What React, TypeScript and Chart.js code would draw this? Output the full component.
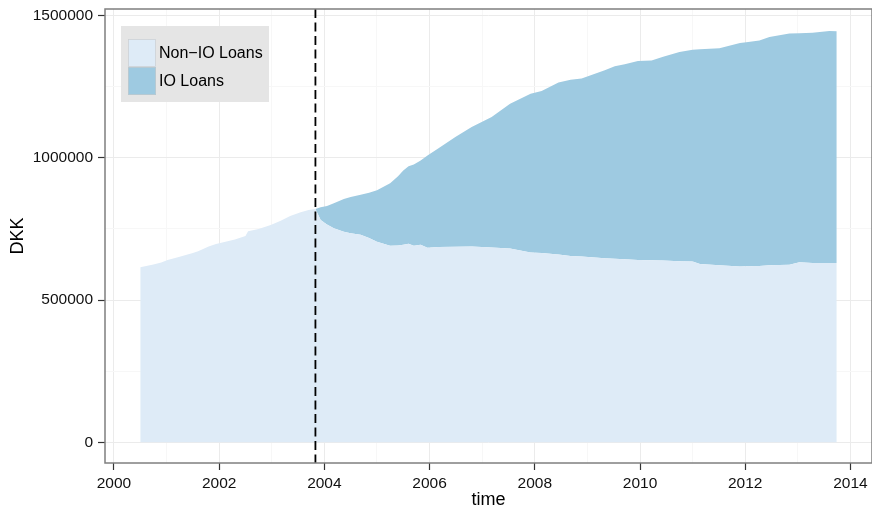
import React, { useEffect, useRef } from "react";
import { Chart, registerables } from "chart.js";

Chart.register(...registerables);

// ---- data (DKK) ----
const timePoints = [
  2000.5, 2000.75, 2000.9, 2001.02, 2001.25, 2001.5, 2001.6, 2001.8, 2001.94, 2002.1,
  2002.3, 2002.5, 2002.55, 2002.75, 2002.98, 2003.17, 2003.35, 2003.55, 2003.7, 2003.83,
  2003.93, 2004.05, 2004.18, 2004.37, 2004.5, 2004.69, 2004.85, 2005.0, 2005.25, 2005.4,
  2005.5, 2005.6, 2005.7, 2005.83, 2005.96, 2006.17, 2006.49, 2006.8, 2007.18, 2007.53,
  2007.92, 2008.13, 2008.45, 2008.68, 2008.89, 2009.33, 2009.52, 2009.71, 2009.96, 2010.22,
  2010.44, 2010.75, 2011.0, 2011.14, 2011.51, 2011.9, 2012.02, 2012.27, 2012.46, 2012.84,
  2013.03, 2013.28, 2013.6, 2013.74,
];

const nonIOLoans = [
  615000, 625000, 632000, 641000, 652000, 665000, 671000, 688000, 697000, 704000,
  713000, 725000, 742000, 750000, 764000, 779000, 795000, 808000, 816000, 820000,
  781000, 765000, 752000, 740000, 735000, 729000, 718000, 705000, 691000, 692000,
  694000, 698000, 691000, 694000, 684000, 686000, 687000, 688000, 685000, 681000,
  667000, 665000, 660000, 655000, 653000, 647000, 645000, 643000, 641000, 640000,
  639000, 636000, 635000, 627000, 622000, 618000, 619000, 620000, 622000, 624000,
  633000, 630000, 630000, 630000,
];

const ioLoans: (number | null)[] = [
  null, null, null, null, null, null, null, null, null, null,
  null, null, null, null, null, null, null, null, null, 0,
  45000, 65000, 88000, 115000, 127000, 141000, 159000, 181000, 219000, 243000,
  261000, 272000, 285000, 296000, 324000, 347000, 386000, 420000, 458000, 509000,
  558000, 569000, 604000, 619000, 625000, 660000, 676000, 685000, 699000, 702000,
  716000, 735000, 744000, 754000, 763000, 785000, 787000, 792000, 802000, 812000,
  804000, 809000, 815000, 814000,
];

const seriesLabels = ["Non\u2212IO Loans", "IO Loans"];
const seriesColors = ["#DEEBF7", "#9ECAE1"];

const xMajorTicks = [2000, 2002, 2004, 2006, 2008, 2010, 2012, 2014];
const xMinorTicks = [2001, 2003, 2005, 2007, 2009, 2011, 2013];
const yMajorTicks = [0, 500000, 1000000, 1500000];
const yMinorTicks = [250000, 750000, 1250000];

const policyChangeTime = 2003.83;
const xLimits = [1999.83, 2014.41];
const yLimits = [-72500, 1522500];

const FONT = "'Liberation Sans', Arial, Helvetica, sans-serif";

const decorPlugin = {
  id: "decor",
  afterDatasetsDraw(chart: any) {
    const { ctx, chartArea: a, scales } = chart;
    const x = scales.x;
    ctx.save();
    // dashed vertical line
    const px = x.getPixelForValue(policyChangeTime);
    ctx.beginPath();
    ctx.setLineDash([9, 4.5]);
    ctx.lineWidth = 1.8;
    ctx.strokeStyle = "#000000";
    ctx.moveTo(px, a.top);
    ctx.lineTo(px, a.bottom);
    ctx.stroke();
    ctx.setLineDash([]);
    // panel border
    ctx.strokeStyle = "#7F7F7F";
    ctx.lineWidth = 1.5;
    ctx.strokeRect(a.left, a.top, a.right - a.left, a.bottom - a.top);
    // legend
    const lx = a.left + 16;
    const ly = a.top + 17;
    ctx.fillStyle = "#E5E5E5";
    ctx.fillRect(lx, ly, 148, 76);
    const keyX = lx + 7;
    const keyY = ly + 13;
    const keySize = 28;
    ctx.font = `16px ${FONT}`;
    ctx.textBaseline = "middle";
    ctx.textAlign = "left";
    chart.data.datasets.forEach((ds: any, i: number) => {
      const ky = keyY + i * keySize;
      ctx.fillStyle = ds.backgroundColor;
      ctx.fillRect(keyX, ky, keySize, keySize);
      ctx.strokeStyle = "rgba(200,200,200,0.8)";
      ctx.lineWidth = 0.75;
      ctx.strokeRect(keyX + 0.5, ky + 0.5, keySize - 1, keySize - 1);
      ctx.fillStyle = "#000000";
      ctx.fillText(ds.label, keyX + keySize + 3, ky + keySize / 2 + 0.5);
    });
    ctx.restore();
  },
};

export default function App() {
  const canvasRef = useRef<HTMLCanvasElement | null>(null);

  useEffect(() => {
    const canvas = canvasRef.current;
    if (!canvas) return;

    const nonIOData = timePoints.map((t, i) => ({ x: t, y: nonIOLoans[i] }));
    const totalData = timePoints
      .map((t, i) => (ioLoans[i] === null ? null : { x: t, y: nonIOLoans[i] + (ioLoans[i] as number) }))
      .filter((p) => p !== null) as { x: number; y: number }[];

    const isMinorX = (v: number) => xMinorTicks.includes(v);
    const isMinorY = (v: number) => yMinorTicks.includes(v);

    const chart = new Chart(canvas, {
      type: "line",
      data: {
        datasets: [
          {
            label: seriesLabels[0],
            data: nonIOData,
            backgroundColor: seriesColors[0],
            borderColor: "rgba(0,0,0,0)",
            borderWidth: 0,
            pointRadius: 0,
            tension: 0,
            fill: "origin",
          },
          {
            label: seriesLabels[1],
            data: totalData,
            backgroundColor: seriesColors[1],
            borderColor: "rgba(0,0,0,0)",
            borderWidth: 0,
            pointRadius: 0,
            tension: 0,
            fill: "-1",
          },
        ],
      },
      options: {
        animation: false,
        responsive: false,
        events: [],
        layout: { padding: { top: 9, right: 0, left: 0, bottom: 0 } },
        plugins: {
          legend: { display: false },
          tooltip: { enabled: false },
        },
        scales: {
          x: {
            type: "linear",
            min: xLimits[0],
            max: xLimits[1],
            afterBuildTicks: (axis: any) => {
              axis.ticks = [...xMajorTicks, ...xMinorTicks]
                .sort((a, b) => a - b)
                .map((v) => ({ value: v }));
            },
            afterFit: (axis: any) => {
              axis.height = 50;
              axis.paddingLeft = 0;
              axis.paddingRight = 0;
              axis.paddingTop = 0;
              axis.paddingBottom = 0;
            },
            border: { display: false },
            grid: {
              color: (c: any) => (c.tick && isMinorX(c.tick.value) ? "#F7F7F7" : "#EBEBEB"),
              lineWidth: 1,
              drawTicks: true,
              tickLength: 7,
              tickWidth: 1.2,
              tickColor: (c: any) => (c.tick && isMinorX(c.tick.value) ? "rgba(0,0,0,0)" : "#333333"),
            },
            ticks: {
              autoSkip: false,
              maxRotation: 0,
              padding: 4,
              color: "#111111",
              font: { family: FONT, size: 15.5 },
              callback: (v: any) => (xMajorTicks.includes(v) ? String(v) : ""),
            },
            title: {
              display: true,
              text: "time",
              color: "#000000",
              font: { family: FONT, size: 18 },
              padding: { top: 0, bottom: 2 },
            },
          },
          y: {
            type: "linear",
            min: yLimits[0],
            max: yLimits[1],
            afterBuildTicks: (axis: any) => {
              axis.ticks = [...yMajorTicks, ...yMinorTicks]
                .sort((a, b) => a - b)
                .map((v) => ({ value: v }));
            },
            afterFit: (axis: any) => {
              axis.width = 105;
              axis.paddingLeft = 0;
              axis.paddingRight = 0;
              axis.paddingTop = 0;
              axis.paddingBottom = 0;
            },
            border: { display: false },
            grid: {
              color: (c: any) => (c.tick && isMinorY(c.tick.value) ? "#F7F7F7" : "#EBEBEB"),
              lineWidth: 1,
              drawTicks: true,
              tickLength: 7,
              tickWidth: 1.2,
              tickColor: (c: any) => (c.tick && isMinorY(c.tick.value) ? "rgba(0,0,0,0)" : "#333333"),
            },
            ticks: {
              autoSkip: false,
              padding: 5,
              color: "#111111",
              font: { family: FONT, size: 15.5 },
              callback: (v: any) => (yMajorTicks.includes(v) ? String(v) : ""),
            },
            title: {
              display: true,
              text: "DKK",
              color: "#000000",
              font: { family: FONT, size: 18 },
              padding: { top: 7, bottom: 0 },
            },
          },
        },
      },
      plugins: [decorPlugin],
    } as any);

    return () => {
      chart.destroy();
    };
  }, []);

  return (
    <div style={{ position: "absolute", left: 0, top: 0, width: 872, height: 513, background: "#ffffff" }}>
      <canvas ref={canvasRef} width={872} height={513} style={{ display: "block", width: 872, height: 513 }} />
    </div>
  );
}
